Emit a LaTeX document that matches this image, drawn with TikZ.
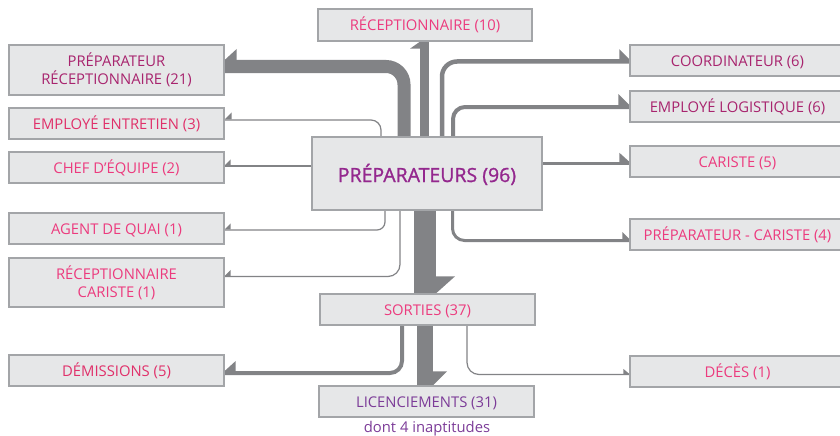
\documentclass[tikz,border=0pt]{standalone}
\usepackage{fontspec}
\setmainfont{Open Sans}
\newfontfamily\prepfont{Open Sans}[FakeBold=1.2]
\usetikzlibrary{decorations.markings,backgrounds}
\definecolor{boxfill}{HTML}{E6E7E8}
\definecolor{boxline}{HTML}{A3A5A8}
\definecolor{flow}{HTML}{828386}
\definecolor{pinktxt}{HTML}{EC3B7E}
\definecolor{rosetxt}{HTML}{E0306A}
\definecolor{plumtxt}{HTML}{A8246E}
\definecolor{violettxt}{HTML}{94288E}
\definecolor{lilactxt}{HTML}{7C3C98}
\tikzset{
  boxbase/.style={draw=boxline, line width=1.3pt, fill=boxfill, minimum width=215pt,
    minimum height=31pt, inner sep=0pt, align=center,
    font=\fontsize{14.8}{18}\selectfont},
  box/.style={boxbase, text height=11.5pt, text depth=0pt},
  flowline/.style={draw=flow, line width=#1},
  tipL/.style n args={3}{postaction={decorate,decoration={markings,
    mark=at position 1 with {\fill[flow, sharp corners] (0pt,#1/2) -- (-#2,#1/2) -- (-#2,#1/2+#3) -- cycle;}}}},
  tipR/.style n args={3}{postaction={decorate,decoration={markings,
    mark=at position 1 with {\fill[flow, sharp corners] (0pt,-#1/2) -- (-#2,-#1/2) -- (-#2,-#1/2-#3) -- cycle;}}}},
}
\begin{document}
\begin{tikzpicture}[x=1pt,y=-1pt]
\useasboundingbox (0,0) rectangle (840,436);
% nodes
\node[box, minimum width=214pt, minimum height=32pt, text=pinktxt] (rec10) at (425,25) {RÉCEPTIONNAIRE (10)};
\node[boxbase, minimum height=50pt, text=plumtxt] (pr21) at (116.5,70) {PRÉPARATEUR\\RÉCEPTIONNAIRE (21)};
\node[box, text=rosetxt] (empent) at (116.5,123.5) {EMPLOYÉ ENTRETIEN (3)};
\node[box, text=pinktxt] (chef) at (116.5,167.5) {CHEF D'ÉQUIPE (2)};
\node[box, text=pinktxt] (agent) at (116.5,228.5) {AGENT DE QUAI (1)};
\node[boxbase, minimum height=49pt, text=pinktxt] (reccar) at (116.5,282.5) {RÉCEPTIONNAIRE\\CARISTE (1)};
\node[box, text=rosetxt] (dem) at (116.5,370.5) {DÉMISSIONS (5)};
\node[boxbase, minimum width=230pt, minimum height=73pt, text=violettxt,
  text height=17pt, text depth=0pt,
  font=\prepfont\fontsize{19.5}{24}\selectfont] (prep) at (427,173.5) {PRÉPARATEURS (96)};
\node[box, text=plumtxt] (coord) at (737.5,60.5) {COORDINATEUR (6)};
\node[box, text=plumtxt] (emplog) at (737.5,106.5) {EMPLOYÉ LOGISTIQUE (6)};
\node[box, text=pinktxt] (car5) at (737.5,161.5) {CARISTE (5)};
\node[box, text=pinktxt] (prepcar) at (737.5,234.5) {PRÉPARATEUR - CARISTE (4)};
\node[box, text=pinktxt] (deces) at (737.5,371.5) {DÉCÈS (1)};
\node[box, text=pinktxt] (sorties) at (427.5,309.5) {SORTIES (37)};
\node[box, text=lilactxt] (licenc) at (426.5,401.5) {LICENCIEMENTS (31)};
\node[text=lilactxt, inner sep=0pt, font=\fontsize{14.8}{18}\selectfont] (dont) at (427,428.5) {dont 4 inaptitudes};
% connectors
\begin{scope}[on background layer]
\draw[flowline=13pt, rounded corners=18pt, tipR={13pt}{12pt}{11pt}]
  (prep.north -| 404,0) |- (pr21.east |- 0,66.5);
\draw[flowline=9pt, tipL={9pt}{7pt}{10pt}]
  (prep.north -| 424.5,0) -- (rec10.south -| 424.5,0);
\draw[flowline=1.2pt, rounded corners=10pt, tipR={1.2pt}{7pt}{7pt}]
  (prep.north -| 381,0) |- (empent.east |- 0,120);
\draw[flowline=1.2pt, tipR={1.2pt}{6pt}{6pt}]
  (prep.west |- 0,166) -- (chef.east |- 0,166);
\draw[flowline=4.5pt, rounded corners=15pt, tipL={4.5pt}{10pt}{10pt}]
  (prep.north -| 442,0) |- (coord.west |- 0,61.5);
\draw[flowline=4pt, rounded corners=12pt, tipL={4pt}{11pt}{11pt}]
  (prep.north -| 453,0) |- (emplog.west |- 0,107);
\draw[flowline=3.5pt, tipL={3.5pt}{10pt}{9pt}]
  (prep.east |- 0,163.5) -- (car5.west |- 0,163.5);
\draw[flowline=3pt, rounded corners=12pt, tipL={3pt}{7pt}{7pt}]
  (prep.south -| 452.5,0) |- (prepcar.west |- 0,240.5);
\draw[flowline=1.2pt, rounded corners=8pt, tipR={1.2pt}{6pt}{6pt}]
  (prep.south -| 385,0) |- (agent.east |- 0,230);
\draw[flowline=1.2pt, rounded corners=12pt, tipR={1.2pt}{6pt}{6pt}]
  (prep.south -| 400,0) |- (reccar.east |- 0,276.5);
\draw[flowline=22pt, tipL={22pt}{17pt}{19pt}]
  (prep.south -| 425,0) -- (sorties.north -| 425,0);
\draw[flowline=4pt, rounded corners=12pt, tipR={4pt}{11pt}{10pt}]
  (sorties.south -| 402,0) |- (dem.east |- 0,373);
\draw[flowline=16pt, tipL={16pt}{14pt}{14pt}]
  (sorties.south -| 425,0) -- (licenc.north -| 425,0);
\draw[flowline=1.2pt, rounded corners=12pt, tipL={1.2pt}{6pt}{5pt}]
  (sorties.south -| 467,0) |- (deces.west |- 0,374.5);
\end{scope}
\end{tikzpicture}
\end{document}
